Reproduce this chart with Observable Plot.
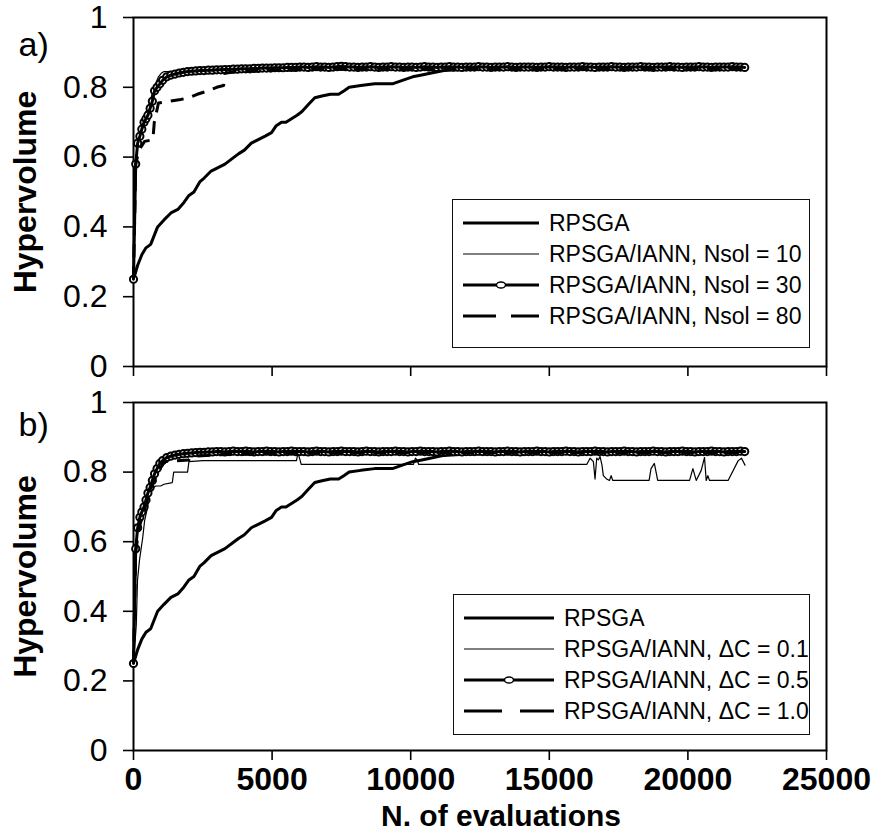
<!DOCTYPE html>
<html>
<head>
<meta charset="utf-8">
<script src="https://cdn.jsdelivr.net/npm/d3@7"></script>
<script src="https://cdn.jsdelivr.net/npm/@observablehq/plot@0.6"></script>
<style>
  body { margin: 0; background: #fff; }
  #fig { position: relative; width: 874px; height: 836px; font-family: "Liberation Sans", Arial, sans-serif; }
  .panel { position: absolute; left: 0; }
  .legend { position: absolute; box-sizing: border-box; border: 1px solid #111; background: #fff; }
  .legend svg { display: block; }
</style>
</head>
<body>
<div id="fig"></div>
<script>
// Axis ticks and their labels
const xTicks = [0, 5000, 10000, 15000, 20000, 25000];
const xTickLabels = ["0", "5000", "10000", "15000", "20000", "25000"];
const yTicks = [0, 0.2, 0.4, 0.6, 0.8, 1];
const yTickLabels = ["0", "0.2", "0.4", "0.6", "0.8", "1"];

const panelTags = ["a)", "b)"];
const yTitle = "Hypervolume";
const xTitle = "N. of evaluations";

const legendA = ["RPSGA", "RPSGA/IANN, Nsol = 10", "RPSGA/IANN, Nsol = 30", "RPSGA/IANN, Nsol = 80"];
const legendB = ["RPSGA", "RPSGA/IANN, \u0394C = 0.1", "RPSGA/IANN, \u0394C = 0.5", "RPSGA/IANN, \u0394C = 1.0"];

// RPSGA alone (same baseline in both panels)
const rpsgaEvals = [0, 150, 300, 450, 620, 870, 1100, 1350, 1600, 1820, 2000, 2180, 2400, 2550, 2800, 3050, 3300, 3630, 3800, 4000,
  4250, 4500, 4750, 4980, 5150, 5340, 5500, 5700, 5900, 6070, 6300, 6540, 6800, 7100, 7400, 7600, 7780, 8200, 8700, 9340,
  9700, 10070, 10400, 10700, 11200, 12000, 14000, 16000, 18000, 20000, 22000];
const rpsgaHV = [0.25, 0.29, 0.32, 0.34, 0.35, 0.40, 0.42, 0.44, 0.45, 0.47, 0.49, 0.50, 0.53, 0.54, 0.56, 0.57, 0.58, 0.60, 0.61, 0.62,
  0.64, 0.65, 0.66, 0.67, 0.69, 0.70, 0.70, 0.71, 0.72, 0.73, 0.75, 0.77, 0.775, 0.78, 0.78, 0.79, 0.80, 0.805, 0.81, 0.81,
  0.82, 0.83, 0.835, 0.84, 0.848, 0.852, 0.853, 0.854, 0.855, 0.855, 0.855];

// Evaluation counts at which the marked series were recorded
const markerEvals = [0, 80, 150, 230, 300, 380, 450, 520, 600, 680, 760, 850, 950, 1050, 1200, 1350, 1500, 1650, 1800, 1950, 2100, 2250,
  2400, 2550, 2700, 2850, 3000, 3150, 3300, 3450, 3600, 3750,
  3900, 4050, 4200, 4350, 4500, 4650, 4800, 4950, 5100, 5250,
  5400, 5550, 5700, 5850, 6000, 6150, 6300, 6450, 6600, 6750,
  6900, 7050, 7200, 7350, 7500, 7650, 7800, 7950, 8100, 8250,
  8400, 8550, 8700, 8850, 9000, 9150, 9300, 9450, 9600, 9750,
  9900, 10050, 10200, 10350, 10500, 10650, 10800, 10950, 11100, 11250,
  11400, 11550, 11700, 11850, 12000, 12150, 12300, 12450, 12600, 12750,
  12900, 13050, 13200, 13350, 13500, 13650, 13800, 13950, 14100, 14250,
  14400, 14550, 14700, 14850, 15000, 15150, 15300, 15450, 15600, 15750,
  15900, 16050, 16200, 16350, 16500, 16650, 16800, 16950, 17100, 17250,
  17400, 17550, 17700, 17850, 18000, 18150, 18300, 18450, 18600, 18750,
  18900, 19050, 19200, 19350, 19500, 19650, 19800, 19950, 20100, 20250,
  20400, 20550, 20700, 20850, 21000, 21150, 21300, 21450, 21600, 21750,
  21900, 22050];

// a) Nsol = 10
const nsol10Evals = [0, 60, 120, 200, 300, 400, 500, 600, 700, 800, 900, 1000, 1100, 2000, 3000, 3400, 6000, 10000, 16000, 22000];
const nsol10HV = [0.25, 0.55, 0.62, 0.66, 0.69, 0.72, 0.74, 0.76, 0.79, 0.81, 0.83, 0.84, 0.845, 0.846, 0.848, 0.85, 0.853, 0.855, 0.856, 0.856];

// a) Nsol = 30 (marked)
const nsol30HV = [0.25, 0.58, 0.64, 0.66, 0.68, 0.70, 0.71, 0.72, 0.74, 0.76, 0.79, 0.80, 0.81, 0.82, 0.83, 0.835, 0.838, 0.841, 0.843, 0.845, 0.846, 0.847,
  0.848, 0.848, 0.849, 0.849, 0.850, 0.850, 0.851, 0.851, 0.852, 0.852,
  0.853, 0.853, 0.853, 0.854, 0.854, 0.855, 0.855, 0.855, 0.856, 0.856,
  0.856, 0.857, 0.857, 0.857, 0.858, 0.858, 0.857, 0.858, 0.859, 0.858,
  0.858, 0.857, 0.858, 0.859, 0.860, 0.859, 0.858, 0.858, 0.857, 0.858,
  0.858, 0.859, 0.858, 0.857, 0.858, 0.858, 0.859, 0.858, 0.858, 0.857,
  0.858, 0.858, 0.857, 0.858, 0.859, 0.858, 0.858, 0.857, 0.858, 0.858,
  0.859, 0.858, 0.858, 0.857, 0.858, 0.858, 0.858, 0.859, 0.858, 0.858,
  0.857, 0.858, 0.858, 0.858, 0.859, 0.858, 0.857, 0.858, 0.858, 0.858,
  0.858, 0.857, 0.858, 0.858, 0.859, 0.858, 0.858, 0.858, 0.857, 0.858,
  0.858, 0.858, 0.859, 0.858, 0.858, 0.857, 0.858, 0.858, 0.858, 0.859,
  0.858, 0.858, 0.857, 0.858, 0.858, 0.858, 0.859, 0.858, 0.858, 0.857,
  0.858, 0.858, 0.858, 0.859, 0.858, 0.858, 0.857, 0.858, 0.858, 0.858,
  0.859, 0.858, 0.858, 0.857, 0.858, 0.858, 0.858, 0.858, 0.859, 0.858,
  0.858, 0.857];

// a) Nsol = 80
const nsol80Evals = [0, 80, 200, 400, 700, 750, 900, 1300, 1700, 2000, 2300, 2700, 3000, 3250, 3300, 3700, 5000, 8000, 12000, 22000];
const nsol80HV = [0.25, 0.58, 0.62, 0.645, 0.65, 0.70, 0.755, 0.76, 0.765, 0.77, 0.78, 0.79, 0.80, 0.805, 0.84, 0.845, 0.85, 0.852, 0.853, 0.853];

// b) dC = 0.1
const dc01Evals = [0, 100, 145, 220, 330, 400, 510, 620, 800, 980, 1100, 1400, 1450, 1950, 2000, 2500, 5880, 5930, 5990, 6050,
  10100, 10170, 10230, 10290, 16350, 16470, 16590, 16650, 16710, 16770, 16830, 16900, 16950, 17070, 17170, 17230, 17290, 18600, 18670, 18790,
  18910, 20060, 20180, 20300, 20480, 20600, 20660, 20720, 20780, 21450, 21815, 21935, 22060];
const dc01HV = [0.25, 0.36, 0.49, 0.55, 0.61, 0.66, 0.70, 0.75, 0.76, 0.76, 0.765, 0.77, 0.80, 0.80, 0.83, 0.833, 0.833, 0.855, 0.84, 0.822,
  0.822, 0.84, 0.835, 0.822, 0.822, 0.84, 0.83, 0.78, 0.84, 0.835, 0.845, 0.82, 0.79, 0.78, 0.776, 0.79, 0.776, 0.776, 0.81, 0.825,
  0.776, 0.776, 0.81, 0.776, 0.805, 0.842, 0.776, 0.79, 0.776, 0.776, 0.833, 0.84, 0.82];

// b) dC = 0.5 (marked)
const dc05HV = [0.25, 0.58, 0.64, 0.67, 0.685, 0.70, 0.72, 0.74, 0.756, 0.776, 0.795, 0.81, 0.825, 0.833, 0.842, 0.846, 0.849, 0.851, 0.853, 0.854, 0.855, 0.856,
  0.857, 0.857, 0.858, 0.858, 0.859, 0.859, 0.858, 0.859, 0.860, 0.859,
  0.859, 0.860, 0.859, 0.858, 0.859, 0.859, 0.860, 0.859, 0.859, 0.858,
  0.859, 0.859, 0.860, 0.859, 0.859, 0.859, 0.858, 0.859, 0.860, 0.859,
  0.859, 0.858, 0.859, 0.859, 0.860, 0.859, 0.859, 0.859, 0.858, 0.859,
  0.860, 0.859, 0.859, 0.858, 0.859, 0.859, 0.859, 0.860, 0.859, 0.859,
  0.858, 0.859, 0.859, 0.860, 0.859, 0.859, 0.859, 0.858, 0.859, 0.859,
  0.860, 0.859, 0.859, 0.858, 0.859, 0.859, 0.859, 0.860, 0.859, 0.859,
  0.859, 0.858, 0.859, 0.859, 0.860, 0.859, 0.859, 0.858, 0.859, 0.859,
  0.859, 0.860, 0.859, 0.859, 0.858, 0.859, 0.859, 0.859, 0.860, 0.859,
  0.859, 0.858, 0.859, 0.859, 0.859, 0.860, 0.859, 0.859, 0.858, 0.859,
  0.859, 0.859, 0.860, 0.859, 0.859, 0.858, 0.859, 0.859, 0.859, 0.860,
  0.859, 0.859, 0.858, 0.859, 0.859, 0.859, 0.860, 0.859, 0.859, 0.858,
  0.859, 0.859, 0.859, 0.860, 0.859, 0.859, 0.858, 0.859, 0.859, 0.859,
  0.860, 0.859];

// b) dC = 1.0
const dc10Evals = [0, 80, 200, 350, 500, 700, 900, 1100, 2000, 2100, 3000, 6000, 10000, 22000];
const dc10HV = [0.25, 0.57, 0.64, 0.68, 0.72, 0.77, 0.80, 0.83, 0.835, 0.845, 0.85, 0.855, 0.856, 0.856];

const FONT = "Liberation Sans, Arial, sans-serif";
const rows = (xs, ys) => xs.map((x, i) => ({x, y: ys[i]}));

// Line styles, in legend order: plain thick, thin, thick with circles, dashed
const styles = [
  {strokeWidth: 3},
  {strokeWidth: 1.2},
  {strokeWidth: 3, marker: true},
  {strokeWidth: 3, dash: "13,9"}
];

function seriesMarks(list) {
  const marks = [];
  list.forEach(([data, st]) => {
    // circle markers sit under their own line so the dense run reads as a solid band
    if (st.marker) marks.push(Plot.dot(data, {x: "x", y: "y", r: 3.6, fill: "white", stroke: "#000", strokeWidth: 2}));
    marks.push(Plot.line(data, {x: "x", y: "y", stroke: "#000", strokeWidth: st.strokeWidth,
      strokeDasharray: st.dash, strokeLinejoin: "round", strokeLinecap: st.dash ? "butt" : "round"}));
  });
  return marks;
}

function panel({height, marginTop, marginBottom, tag, tagDy, series, showXLabels}) {
  const marks = [
    Plot.frame({stroke: "#000", strokeWidth: 2}),
    Plot.axisY(yTicks, {tickSize: 10, tickPadding: 16, strokeWidth: 1.6, fontSize: 32, fontFamily: FONT,
      tickFormat: d => yTickLabels[yTicks.indexOf(d)], label: null}),
    Plot.axisX(xTicks, {tickSize: 10, tickPadding: 7, strokeWidth: 1.6, fontSize: 32, fontWeight: "bold", fontFamily: FONT,
      tickFormat: d => showXLabels ? xTickLabels[xTicks.indexOf(d)] : "", label: null}),
    ...seriesMarks(series),
    Plot.text([yTitle], {text: d => d, frameAnchor: "left", rotate: -90, dx: -108, textAnchor: "middle", lineAnchor: "middle",
      fontSize: 32, fontWeight: "bold", fontFamily: FONT}),
    Plot.text([tag], {text: d => d, frameAnchor: "top-left", dx: -115, dy: tagDy, textAnchor: "start", lineAnchor: "middle",
      fontSize: 34, fontFamily: FONT})
  ];
  if (showXLabels) {
    marks.push(Plot.text([xTitle], {text: d => d, frameAnchor: "bottom", dx: 21, dy: 66, lineAnchor: "middle",
      fontSize: 30, fontWeight: "bold", fontFamily: FONT}));
  }
  return Plot.plot({
    width: 874, height,
    marginLeft: 133, marginRight: 48, marginTop, marginBottom,
    style: {fontFamily: FONT, fontSize: "32px", background: "white", overflow: "visible", color: "#000"},
    x: {domain: [0, 25000]},
    y: {domain: [0, 1]},
    marks
  });
}

function legend(labels, box) {
  const div = d3.select("#fig").append("div").attr("class", "legend")
    .style("left", box.left + "px").style("top", box.top + "px")
    .style("width", box.width + "px").style("height", box.height + "px");
  const svg = div.append("svg").attr("width", box.width - 2).attr("height", box.height - 2);
  labels.forEach((label, i) => {
    const st = styles[i];
    const y = box.firstY + i * box.step;
    svg.append("line").attr("x1", box.x0).attr("x2", box.x1).attr("y1", y).attr("y2", y)
      .attr("stroke", "#000").attr("stroke-width", st.strokeWidth)
      .attr("stroke-dasharray", st.dash ? box.legendDash : null);
    if (st.marker) {
      svg.append("ellipse").attr("cx", (box.x0 + box.x1) / 2).attr("cy", y).attr("rx", 4.5).attr("ry", 3)
        .attr("fill", "white").attr("stroke", "#000").attr("stroke-width", 1.4);
    }
    svg.append("text").attr("x", box.textX).attr("y", y).attr("dy", "0.35em")
      .attr("font-family", FONT).attr("font-size", 23).text(label);
  });
}

const fig = document.getElementById("fig");

const chartA = panel({
  height: 385, marginTop: 17, marginBottom: 19, tag: panelTags[0], tagDy: 28, showXLabels: false,
  series: [
    [rows(rpsgaEvals, rpsgaHV), styles[0]],
    [rows(nsol10Evals, nsol10HV), styles[1]],
    [rows(markerEvals, nsol30HV), styles[2]],
    [rows(nsol80Evals, nsol80HV), styles[3]]
  ]
});
chartA.classList.add("panel");
chartA.style.top = "0px";
fig.appendChild(chartA);

const chartB = panel({
  height: 451, marginTop: 17, marginBottom: 86, tag: panelTags[1], tagDy: 23, showXLabels: true,
  series: [
    [rows(rpsgaEvals, rpsgaHV), styles[0]],
    [rows(dc01Evals, dc01HV), styles[1]],
    [rows(markerEvals, dc05HV), styles[2]],
    [rows(dc10Evals, dc10HV), styles[3]]
  ]
});
chartB.classList.add("panel");
chartB.style.top = "385px";
fig.appendChild(chartB);

legend(legendA, {left: 452, top: 199, width: 358, height: 149, firstY: 23, step: 31, x0: 10, x1: 86, textX: 96, legendDash: "33,15"});
legend(legendB, {left: 453, top: 594, width: 357, height: 141, firstY: 23, step: 31, x0: 10, x1: 100, textX: 110, legendDash: "38,18"});
</script>
</body>
</html>
